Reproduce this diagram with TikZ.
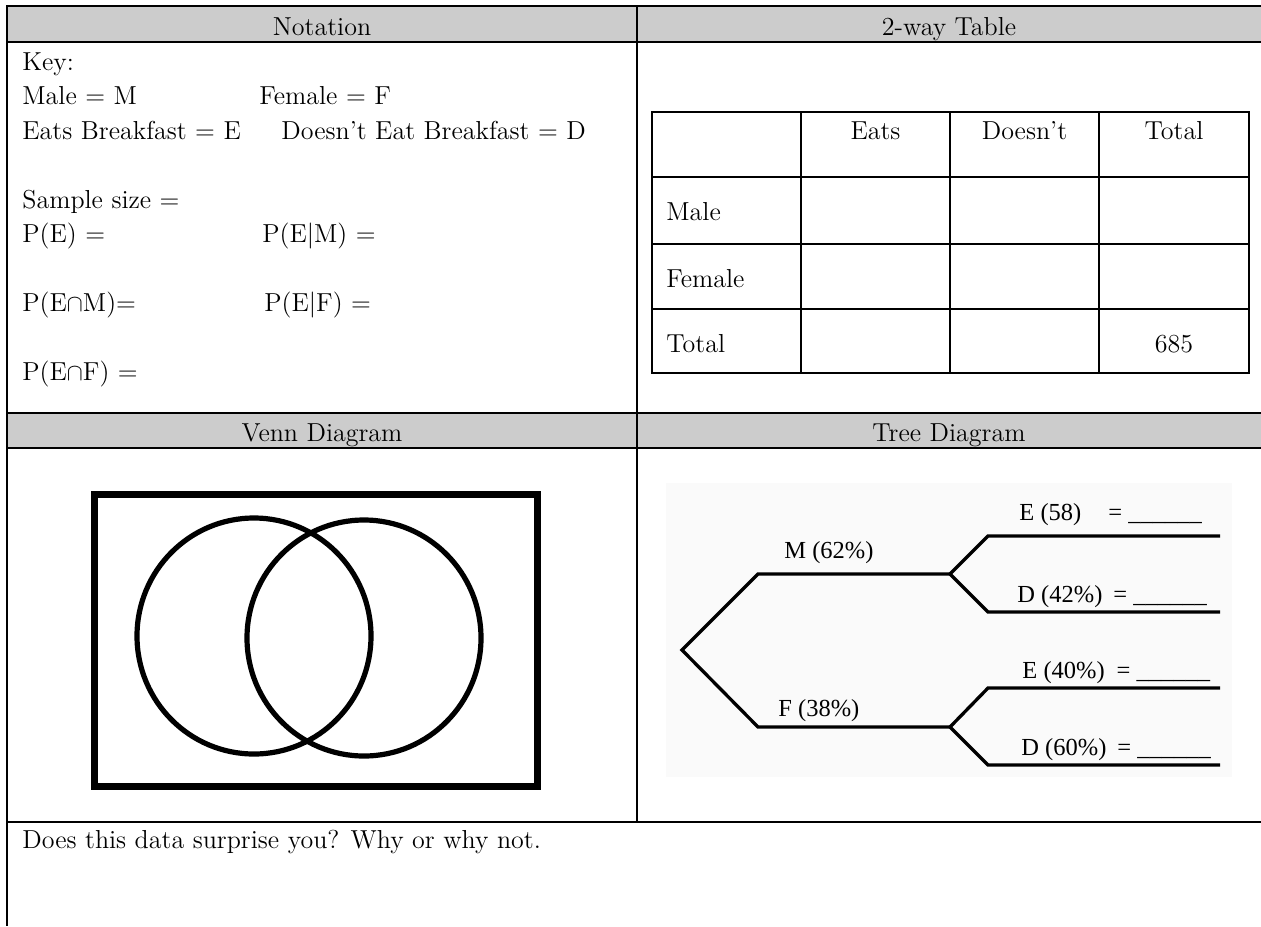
\documentclass[tikz,border=0pt]{standalone}
\usepackage{fontspec}
\newfontfamily\treefont{Liberation Serif}
\definecolor{headgray}{HTML}{CCCCCC}
\tikzset{
  txt/.style={anchor=base west,inner sep=0pt,font=\fontsize{13}{15}\selectfont},
  head/.style={txt,anchor=base},
  lbl/.style={anchor=base west,inner sep=0pt,font=\treefont\fontsize{12.25}{14}\selectfont},
  frame/.style={line width=1pt},
  branch/.style={line width=1.65pt}
}

\begin{document}
\begin{tikzpicture}[x=0.5pt,y=-0.5pt]
\useasboundingbox (0,0) rectangle (1261,926);
% outer grid
\fill[headgray] (7,6) rectangle (1261,42) (7,413) rectangle (1261,448);
\draw[frame]
      (1261,  6) -- (7,6) -- (7,926)
      (   7, 42) -- +(1254,0)
      (   7,413) -- +(1254,0)
      (   7,448) -- +(1254,0)
      (   7,822) -- +(1254,0)
      ( 637,  6) -- (637,822);
\path[every node/.style=head]
      (322, 35) node (notation) {Notation}
      (949, 35) node (twoway)   {2-way Table}
      (322,441) node (venn)     {Venn Diagram}
      (949,441) node (tree)     {Tree Diagram};
% notation
\path[every node/.style=txt]
      ( 22  , 70  ) node (key)    {Key:}
    ++(  0  , 34.5) node (male)   {Male = M}
    ++(  0  , 34.5) node (eats)   {Eats Breakfast = E}
    ++(  0  , 69  ) node (sample) {Sample size =}
    ++(  0  , 34.5) node (pe)     {P(E) =}
    ++(  0  , 69  ) node (pem)    {P(E$\cap$M)=}
    ++(  0  , 69  ) node (pef)    {P(E$\cap$F) =}
      (259  ,104.5) node (female) {Female = F}
      (281  ,139  ) node (doesnt) {Doesn’t Eat Breakfast = D}
      (262  ,242.5) node (pegm)   {P(E|M) =}
      (264  ,311.5) node (pegf)   {P(E|F) =};
% 2-way table
\draw[frame] (652,112) rectangle (1249,373);
\foreach \x in {801,950,1099} \draw[frame] (\x,112) -- (\x,373);
\foreach \y in {177,244,309} \draw[frame] (652,\y) -- (1249,\y);
\path[every node/.style=head]
      ( 875.5,139) node (colE) {Eats}
      (1024.5,139) node (colD) {Doesn’t}
      (1174  ,139) node (colT) {Total}
      (1174  ,352) node (grand) {685};
\path[every node/.style=txt]
      (666,220) node (rowM) {Male}
      (666,287) node (rowF) {Female}
      (666,352) node (rowT) {Total};
% venn diagram
\draw[line width=3.5pt] (94,494) rectangle (537,786);
\draw[line width=2.6pt]
      (254,636) ellipse [x radius=117, y radius=118]
      (364,638) ellipse [x radius=117, y radius=118];
% tree diagram
\fill[black!2] (666,483) rectangle (1232,777);
\coordinate (root) at (682,650);
\coordinate (m0)  at (758,574);  \coordinate (m)  at (950,574);
\coordinate (f0)  at (758,727);  \coordinate (f)  at (950,727);
\coordinate (me0) at (988,536);  \coordinate (me) at (1220,536);
\coordinate (md0) at (988,612);  \coordinate (md) at (1220,612);
\coordinate (fe0) at (988,688);  \coordinate (fe) at (1220,688);
\coordinate (fd0) at (988,765);  \coordinate (fd) at (1220,765);
\draw[branch] (m)  -- (m0)  -- (root) -- (f0)  -- (f);
\draw[branch] (me) -- (me0) -- (m)    -- (md0) -- (md);
\draw[branch] (fe) -- (fe0) -- (f)    -- (fd0) -- (fd);
\path[every node/.style=lbl]
      ( 784,558) node (lm)  {M (62\%)}
      ( 778,716) node (lf)  {F (38\%)}
      (1019,520) node (lme) {E (58)\hspace{13.5pt}= \_\_\_\_\_\_}
      (1017,602) node (lmd) {D (42\%)\hspace{5.5pt}= \_\_\_\_\_\_}
      (1022,678) node (lfe) {E (40\%)\hspace{6pt}= \_\_\_\_\_\_}
      (1021,755) node (lfd) {D (60\%)\hspace{5.5pt}= \_\_\_\_\_\_};
% question
\node[txt] (question) at (22,848) {Does this data surprise you? Why or why not.};
\end{tikzpicture}
\end{document}
